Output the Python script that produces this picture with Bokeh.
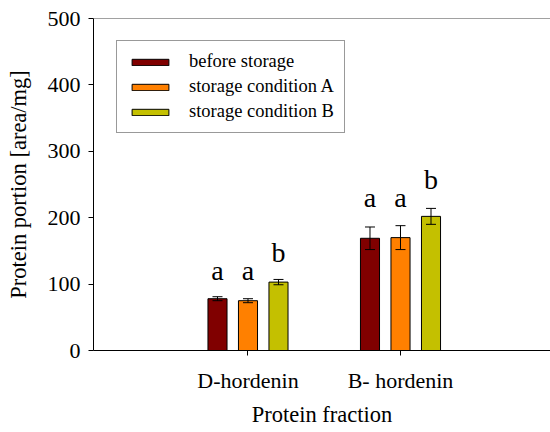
from bokeh.plotting import figure
from bokeh.models import (ColumnDataSource, Range1d, FixedTicker, Whisker, TeeHead,
                          Legend, LegendItem, Span)
from bokeh.core.properties import value
from bokeh.embed import file_html
from bokeh.resources import INLINE

# Protein fractions (x groups) and storage conditions (series)
fractions = ["D-hordenin", "B- hordenin"]
conditions = ["before storage", "storage condition A", "storage condition B"]
colors = ["#800000", "#FF8000", "#C4C000"]

# Mean protein portion [area/mg] per fraction
before = [78, 169]
cond_a = [75, 170]
cond_b = [103, 202]

# Standard deviations
err_before = [3, 17]
err_a = [3, 18]
err_b = [4, 12]

# Significance letters and the height at which they are written
letters_before = ["a", "a"]
letters_a = ["a", "a"]
letters_b = ["b", "b"]
letter_y_before = [121, 230]
letter_y_a = [121, 230]
letter_y_b = [147, 257]

FONT = "Liberation Serif"

p = figure(width=550, height=432, output_backend="svg", toolbar_location=None,
           x_range=Range1d(-0.0131, 2.9836), y_range=Range1d(0, 500),
           min_border_left=93, min_border_right=0, min_border_top=18,
           min_border_bottom=82)
p.outline_line_color = None
p.xgrid.visible = False
p.ygrid.visible = False
p.background_fill_color = "white"
p.border_fill_color = "white"

series = [
    (before, err_before, letters_before, letter_y_before),
    (cond_a, err_a, letters_a, letter_y_a),
    (cond_b, err_b, letters_b, letter_y_b),
]
offsets = [-0.2, 0.0, 0.2]
bar_width = 0.125

items = []
for (vals, errs, letters, ly), off, color, name in zip(series, offsets, colors, conditions):
    xs = [i + 1 + off for i in range(len(fractions))]
    src = ColumnDataSource(dict(
        x=xs, top=vals,
        upper=[v + e for v, e in zip(vals, errs)],
        lower=[v - e for v, e in zip(vals, errs)],
        letter=letters, ly=ly,
    ))
    r = p.vbar(x="x", top="top", width=bar_width, source=src,
               fill_color=color, line_color="black", line_width=1)
    items.append(LegendItem(label=name, renderers=[r]))
    p.add_layout(Whisker(base="x", upper="upper", lower="lower", source=src,
                         level="annotation", line_color="black", line_width=1,
                         upper_head=TeeHead(size=10, line_color="black", line_width=1),
                         lower_head=TeeHead(size=10, line_color="black", line_width=1)))
    p.text(x="x", y="ly", text="letter", source=src, text_font=value(FONT),
           text_font_size="28px", text_align="center", text_baseline="alphabetic",
           text_color="black")

# top border of the plotting area
p.add_layout(Span(location=500, dimension="width", line_color="#444444", line_width=1))

legend = Legend(items=items, location=(23, 217), orientation="vertical",
                border_line_color="#333333", border_line_width=1,
                background_fill_color="white", background_fill_alpha=1,
                label_text_font=FONT, label_text_font_size="18.5px",
                label_text_color="black",
                glyph_width=46, glyph_height=8, label_standoff=16,
                padding=10, spacing=4, margin=0)
p.add_layout(legend)

for ax in (p.xaxis[0], p.yaxis[0]):
    ax.axis_line_color = "black"
    ax.axis_line_width = 1
    ax.major_tick_line_color = "black"
    ax.major_tick_in = 0
    ax.major_tick_out = 5
    ax.minor_tick_line_color = None
    ax.major_label_text_font = FONT
    ax.major_label_text_font_size = "22px"
    ax.major_label_text_color = "black"
    ax.axis_label_text_font = FONT
    ax.axis_label_text_font_size = "22.5px"
    ax.axis_label_text_font_style = "normal"
    ax.axis_label_text_color = "black"

p.xaxis.ticker = FixedTicker(ticks=[1, 2])
p.xaxis.major_label_overrides = {i + 1: f for i, f in enumerate(fractions)}
p.xaxis.major_label_standoff = 12
p.xaxis.axis_label = "Protein fraction"
p.xaxis.axis_label_standoff = 6

p.yaxis.ticker = FixedTicker(ticks=[0, 100, 200, 300, 400, 500])
p.yaxis.major_label_standoff = 8
p.yaxis.axis_label = "Protein portion [area/mg]"
p.yaxis.axis_label_standoff = 14

open("out.html", "w").write(file_html(p, INLINE))
